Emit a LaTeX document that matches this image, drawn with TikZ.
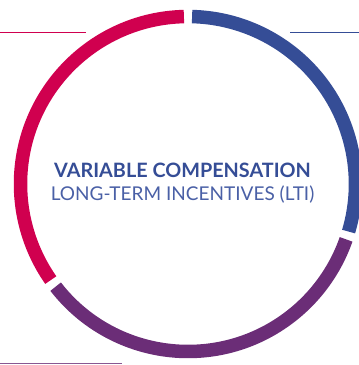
\documentclass[tikz,border=0pt]{standalone}
\usepackage{fontspec}
\setmainfont{Lato}
\definecolor{cred}{HTML}{D0004F}
\definecolor{cblue}{HTML}{354D96}
\definecolor{cpurple}{HTML}{6B2D77}
\definecolor{ctext}{HTML}{354D96}
\definecolor{ctextlight}{HTML}{4A60A6}
\begin{document}
\begin{tikzpicture}[x=1pt,y=1pt,
  seg/.style={line width=13.5pt,line cap=butt},
  rule/.style={line width=1pt}]
\useasboundingbox (0,0) rectangle (359,365);
\coordinate (c) at (188,181);
\def\R{167.5}
\draw[seg,cred] ([shift={(91.4:\R)}]c) arc (91.4:215.0:\R);
\draw[seg,cpurple] ([shift={(217.8:\R)}]c) arc (217.8:340.7:\R);
\draw[seg,cblue] ([shift={(343.5:\R)}]c) arc (343.5:448.6:\R);
\coordinate (tl0) at (0,332);
\coordinate (tl1) at (86,332);
\coordinate (tr0) at (290,332);
\coordinate (tr1) at (359,332);
\coordinate (bl0) at (0,1);
\coordinate (bl1) at (122,1);
\draw[rule,cred] (tl0) -- (tl1);
\draw[rule,cblue] (tr0) -- (tr1);
\draw[rule,cpurple!80] (bl0) -- (bl1);
\node[font=\fontsize{19.8}{22}\selectfont\bfseries,text=ctext] (t1) at (182.5,194.5) {VARIABLE COMPENSATION};
\node[font=\fontsize{19}{22}\selectfont,text=ctextlight] (t2) at (182.5,170) {LONG-TERM INCENTIVES (LTI)};
\end{tikzpicture}
\end{document}
